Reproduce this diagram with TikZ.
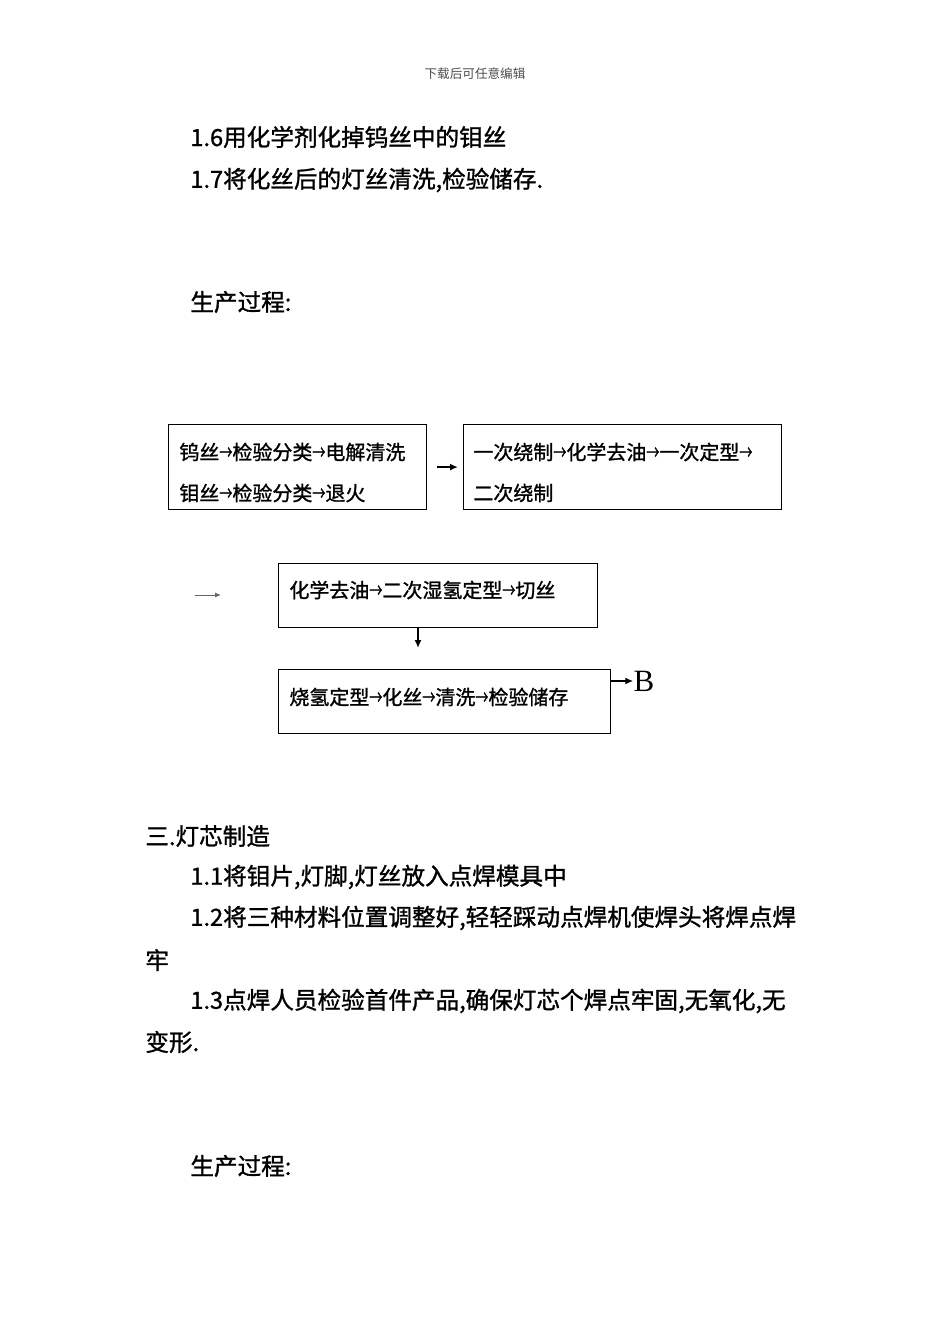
\documentclass[tikz,border=0pt]{standalone}
\usepackage{fontspec}
\setmainfont{Noto Sans CJK SC}
\newfontfamily\midcjk[FakeBold=1.2]{Noto Sans CJK SC}
\newfontfamily\latinserif{Liberation Serif}
\usetikzlibrary{positioning,arrows.meta}

\newcommand\flowto{\scalebox{0.65}[1]{→}}

\tikzset{
  body/.style={anchor=west,inner sep=0pt,font=\midcjk\fontsize{11.8}{14}\selectfont},
  flowbox/.style={draw,line width=0.6pt,anchor=north west,inner sep=0pt},
  boxtext/.style={anchor=west,inner sep=0pt,font=\midcjk\fontsize{10}{12}\selectfont},
  flowarrow/.style={-{Latex[length=4pt,width=3.5pt]},line width=1pt},
}

\begin{document}
\begin{tikzpicture}[x=0.5pt,y=-0.5pt]
  \useasboundingbox (0,0) rectangle (950,1344);

  % page header
  \node[font=\fontsize{6.3}{8}\selectfont,text=black!70] (hdr) at (475,74)
    {下载后可任意编辑};

  % steps 1.6 and 1.7
  \node[body] (s16) at (190,137) {1.6用化学剂化掉钨丝中的钼丝};
  \node[body] (s17) at (190,180) {1.7将化丝后的灯丝清洗,检验储存.};
  \node[body] (proc1) at (190,302) {生产过程:};

  % flow chart: boxes
  \node[flowbox,minimum width=129pt,minimum height=42.5pt] (wire) at (168,424) {};
  \node[flowbox,minimum width=159pt,minimum height=42.5pt] (wind) at (463,424) {};
  \node[flowbox,minimum width=159.5pt,minimum height=32pt] (cut) at (278,563) {};
  \node[flowbox,minimum width=166pt,minimum height=32pt] (burn) at (278,669) {};

  % flow chart: texts in the boxes
  \node[boxtext] (w1) at (179,452) {钨丝\flowto 检验分类\flowto 电解清洗};
  \node[boxtext] (w2) at (179,493) {钼丝\flowto 检验分类\flowto 退火};
  \node[boxtext] (n1) at (473,452) {一次绕制\flowto 化学去油\flowto 一次定型\flowto};
  \node[boxtext] (n2) at (473,493) {二次绕制};
  \node[boxtext] (c1) at (289,590) {化学去油\flowto 二次湿氢定型\flowto 切丝};
  \node[boxtext] (b1) at (289,697) {烧氢定型\flowto 化丝\flowto 清洗\flowto 检验储存};
  \node[font=\latinserif\fontsize{15.5}{16}\selectfont,inner sep=0pt] (bmark) at (644,681) {B};

  % flow chart: connectors
  \coordinate (ls) at (195,595);
  \coordinate (le) at (221,595);
  \coordinate (dn) at (418,648);
  \draw[flowarrow] ([xshift=5pt]wire.east) -- ([xshift=-2.5pt]wind.west);
  \draw[-{Latex[length=3pt,width=2.5pt]},line width=0.5pt,black!60] (ls) -- (le);
  \draw[flowarrow] (cut.south -| dn) -- (dn);
  \draw[flowarrow] (burn.north east |- bmark) -- (bmark.west);

  % section 3
  \node[body] (sec3) at (145,836) {三.灯芯制造};
  \node[body] (s11) at (190,877) {1.1将钼片,灯脚,灯丝放入点焊模具中};
  \node[body] (s12) at (190,918) {1.2将三种材料位置调整好,轻轻踩动点焊机使焊头将焊点焊};
  \node[body] (s12b) at (145,960) {牢};
  \node[body] (s13) at (190,1001) {1.3点焊人员检验首件产品,确保灯芯个焊点牢固,无氧化,无};
  \node[body] (s13b) at (145,1042) {变形.};
  \node[body] (proc2) at (190,1166) {生产过程:};
\end{tikzpicture}
\end{document}
